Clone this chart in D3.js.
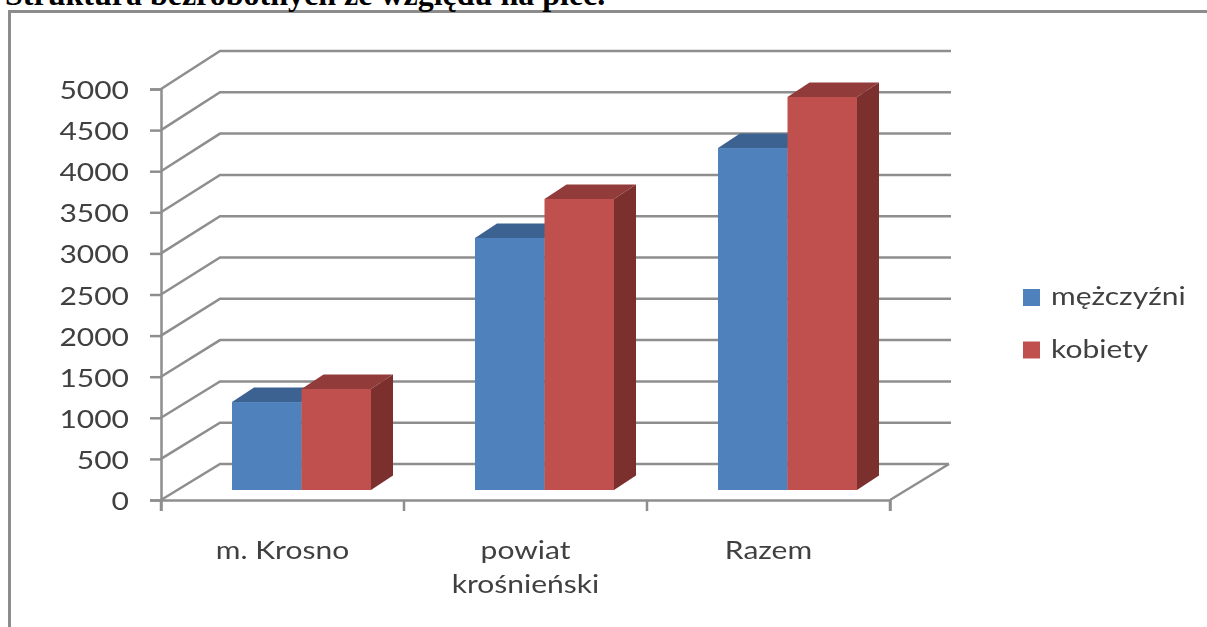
<!DOCTYPE html>
<html>
<head>
<meta charset="utf-8">
<script src="https://cdn.jsdelivr.net/npm/d3@7"></script>
<style>
  html, body { margin: 0; padding: 0; background: #fff; overflow: hidden; }
  text { font-family: Lato, sans-serif; fill: #404040; }
  .soft { filter: blur(0.6px); }
</style>
</head>
<body>
<div id="chart"></div>
<script>
var categories = ['m. Krosno', 'powiat krośnieński', 'Razem'];
var seriesNames = ['mężczyźni', 'kobiety'];
var mezczyzni = [1070, 3066, 4160];
var kobiety = [1229, 3540, 4781];
var tickValues = [0, 500, 1000, 1500, 2000, 2500, 3000, 3500, 4000, 4500, 5000];

var seriesColors = ['#4f81bd', '#c0504d'];
var topColors = ['#3b6291', '#913c3a'];
var sideColors = ['#335580', '#7c302e'];

var w = 1207, h = 627;
var svg = d3.select('#chart').append('svg').attr('width', w).attr('height', h);

var x = d3.scaleBand().domain(categories).range([161, 890]);
var xSeries = d3.scaleBand().domain(seriesNames).range([0, 139]);
var y = d3.scaleLinear().domain([0, 5000]).range([500, 89]);
var yBack = d3.scaleLinear().domain([0, 5000]).range([464, 51]);
var yBar = d3.scaleLinear().domain([0, 5000]).range([490, 79]);

// the reference image is stretched sideways, so the text is as well
var stretch = 1.2;
var fontSize = '25px';

// frame and title
svg.append('path')
  .attr('d', 'M9.5,627 V11.5 H1207')
  .attr('fill', 'none').attr('stroke', '#8c8c8c').attr('stroke-width', 3);
svg.append('text')
  .attr('x', 5).attr('y', 5)
  .style('font-family', '"Liberation Serif", serif')
  .style('font-weight', 'bold').style('font-size', '32px').style('fill', '#000')
  .text('Struktura bezrobotnych ze względu na płeć.');

var chart = svg.append('g').attr('class', 'soft');

// grid on the side wall and back wall
var gridColor = '#8e8e8e';
chart.append('g').selectAll('path').data(tickValues).join('path')
  .attr('d', function(d) {
    return 'M161,' + y(d) + ' L220,' + yBack(d) + ' H' + (d === 0 ? 949 : 951);
  })
  .attr('fill', 'none').attr('stroke', gridColor).attr('stroke-width', 2.5);
chart.append('path')
  .attr('d', 'M890,500 L949,' + yBack(0))
  .attr('fill', 'none').attr('stroke', gridColor).attr('stroke-width', 2.5);

// axes
var yAxis = d3.axisLeft(y).tickValues(tickValues).tickSize(11).tickFormat(d3.format('d'));
var gy = chart.append('g').attr('transform', 'translate(161,0)').call(yAxis);
var xAxis = d3.axisBottom(x).tickSize(11).tickFormat('');
var gx = chart.append('g').attr('transform', 'translate(0,500)').call(xAxis);
// category ticks sit on the band edges
gx.selectAll('.tick').remove();
gx.selectAll('.edge').data(categories.concat([null])).join('line')
  .attr('class', 'edge')
  .attr('x1', function(d) { return d === null ? x.range()[1] : x(d); })
  .attr('x2', function(d) { return d === null ? x.range()[1] : x(d); })
  .attr('y1', 0).attr('y2', 11)
  .attr('stroke', gridColor).attr('stroke-width', 2.5);
chart.selectAll('.domain').attr('stroke', gridColor).attr('stroke-width', 2.5);
gy.selectAll('.tick line').attr('stroke', gridColor).attr('stroke-width', 2.5);
gy.selectAll('.tick text')
  .style('font-size', fontSize).style('font-family', 'Lato, sans-serif')
  .attr('fill', '#404040')
  .attr('x', -32 / stretch).attr('dy', '0.38em')
  .attr('transform', 'scale(' + stretch + ',1)');

// category labels
var catLabels = chart.append('g').selectAll('text').data(categories).join('text')
  .attr('text-anchor', 'middle')
  .style('font-size', fontSize)
  .attr('transform', function(d) {
    return 'translate(' + (x(d) + x.bandwidth() / 2) + ',559) scale(' + stretch + ',1)';
  });
catLabels.each(function(d) {
  var words = d === 'powiat krośnieński' ? d.split(' ') : [d];
  d3.select(this).selectAll('tspan').data(words).join('tspan')
    .attr('x', 0).attr('dy', function(t, i) { return i ? 34 : 0; })
    .text(function(t) { return t; });
});

// bars, drawn with the red series last so it covers the blue side face
var depthX = 22, depthY = 14.5, barStart = 71;
seriesNames.forEach(function(name, s) {
  var values = s === 0 ? mezczyzni : kobiety;
  var g = chart.append('g');
  var left = function(i) { return x(categories[i]) + barStart + xSeries(name); };
  var bw = xSeries.bandwidth();
  var faces = g.selectAll('g').data(values).join('g');
  faces.append('path')
    .attr('fill', topColors[s])
    .attr('d', function(d, i) {
      var a = left(i), t = yBar(d);
      return 'M' + a + ',' + t + ' l' + depthX + ',' + (-depthY) + ' h' + bw + ' l' + (-depthX) + ',' + depthY + ' Z';
    });
  faces.append('path')
    .attr('fill', sideColors[s])
    .attr('d', function(d, i) {
      var a = left(i) + bw, t = yBar(d);
      return 'M' + a + ',' + t + ' l' + depthX + ',' + (-depthY) + ' V' + (yBar(0) - depthY) + ' L' + a + ',' + yBar(0) + ' Z';
    });
  faces.append('rect')
    .attr('fill', seriesColors[s])
    .attr('x', function(d, i) { return left(i); })
    .attr('y', function(d) { return yBar(d); })
    .attr('width', bw)
    .attr('height', function(d) { return yBar(0) - yBar(d); });
});

// legend
var legend = chart.append('g').selectAll('g').data(seriesNames).join('g')
  .attr('transform', function(d, i) { return 'translate(1023,' + (289 + i * 52.5) + ')'; });
legend.append('rect').attr('width', 17).attr('height', 17)
  .attr('fill', function(d, i) { return seriesColors[i]; });
legend.append('text')
  .attr('transform', 'translate(28,16) scale(' + stretch + ',1)')
  .style('font-size', fontSize)
  .text(function(d) { return d; });
</script>
</body>
</html>
